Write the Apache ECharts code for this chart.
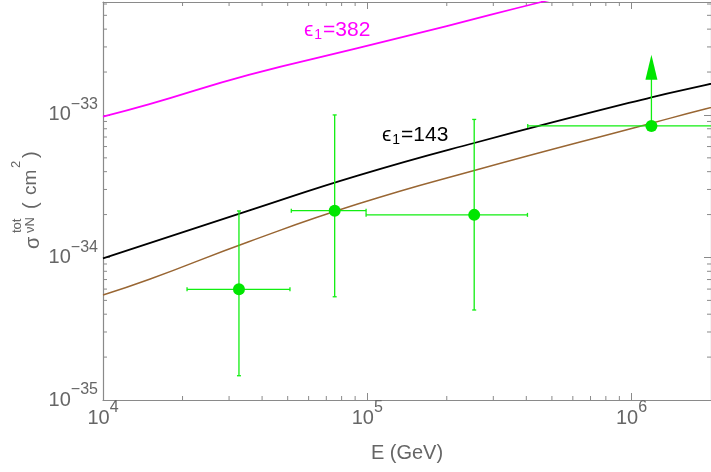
<!DOCTYPE html>
<html>
<head>
<meta charset="utf-8">
<script src="https://cdn.jsdelivr.net/npm/echarts@6/dist/echarts.min.js"></script>
<style>
html, body { margin: 0; padding: 0; background: #fff; }
#main { width: 711px; height: 472px; }
</style>
</head>
<body>
<div id="main"></div>
<script>
// axis ranges
var xMin = 1e4, xMax = 2e6;
var yMin = 1e-35, yMax = 6.2e-33;

// model curves (E in GeV, sigma in cm^2)
var curveE = [1e4, 1.5e4, 3.56e4, 9.2e4, 2.52e5, 1.19e6, 1.9e6, 2.2e6];
var sigma143 = [9.86e-35, 1.26e-34, 2.13e-34, 3.75e-34, 6.33e-34, 1.33e-33, 1.62e-33, 1.72e-33];
var sigmaBrown = [5.46e-35, 7.03e-35, 1.29e-34, 2.37e-34, 4.06e-34, 8.75e-34, 1.1e-33, 1.17e-33];
var curveE382 = [1e4, 1.5e4, 3.56e4, 9.2e4, 2.0e5, 4.56e5, 2e6];
var sigma382 = [9.73e-34, 1.19e-33, 1.91e-33, 2.94e-33, 4.2e-33, 6.2e-33, 1.2e-32];

// measured points with error bars
var ptE = [3.27e4, 7.53e4, 2.54e5];
var ptSigma = [5.98e-35, 2.13e-34, 1.99e-34];
var ptELow = [2.08e4, 5.16e4, 9.9e4];
var ptEHigh = [5.1e4, 9.9e4, 4.04e5];
var ptSigmaLow = [1.48e-35, 5.3e-35, 4.28e-35];
var ptSigmaHigh = [2.12e-34, 1.0e-33, 9.3e-34];

// lower limit point (arrow up)
var limE = [1.19e6];
var limSigma = [8.37e-34];
var limELow = [4.05e5];
var limEHigh = [3e6];
var limArrowTip = [2.64e-33];

var minorMult = [2, 3, 4, 5, 6, 7, 8, 9];
var xDecades = [4, 5, 6];
var yDecades = [-35, -34, -33];

// the log axis can't cope with 1e-35 directly, so sigma is plotted in units of 1e-35 cm^2
var yUnitExp = -35;
function ys(v) { return v / Math.pow(10, yUnitExp); }

var gray = '#666666';
var frame = '#8a8a8a';
var green = '#11ee11';
var font = 'Liberation Sans, Arial, sans-serif';

function zip(a, b) {
	var out = [];
	for (var i = 0; i < a.length; i++) out.push([a[i], ys(b[i])]);
	return out;
}

function isPow10(v) {
	var l = Math.log10(v);
	return Math.abs(l - Math.round(l)) < 1e-6;
}

function supText(n) {
	return String(n).replace('-', '\u2212');
}

function xLabel(v) {
	if (!isPow10(v)) return '';
	return '{b|10}{e|' + supText(Math.round(Math.log10(v))) + '}';
}

function yLabel(v) {
	if (!isPow10(v)) return '';
	return '{b|10}{e|' + supText(Math.round(Math.log10(v)) + yUnitExp) + '}';
}

var powRich = {
	b: { fontSize: 20, lineHeight: 36, verticalAlign: 'middle', color: gray, fontFamily: font },
	e: { fontSize: 16, lineHeight: 16, verticalAlign: 'top', color: gray, fontFamily: font }
};

function seg(p1, p2, style) {
	return { type: 'line', shape: { x1: p1[0], y1: p1[1], x2: p2[0], y2: p2[1] }, style: style };
}

// minor ticks on all four sides of the frame
function minorTicks(params, api) {
	var kids = [];
	var st = { stroke: frame, lineWidth: 1 };
	var len = 4;
	xDecades.forEach(function (d) {
		minorMult.forEach(function (m) {
			var v = m * Math.pow(10, d);
			if (v <= xMin || v >= xMax) return;
			var b = api.coord([v, ys(yMin)]), t = api.coord([v, ys(yMax)]);
			kids.push(seg(b, [b[0], b[1] - len], st));
			kids.push(seg(t, [t[0], t[1] + len], st));
		});
	});
	yDecades.forEach(function (d) {
		minorMult.forEach(function (m) {
			var v = m * Math.pow(10, d);
			if (v <= yMin || v >= yMax) return;
			var l = api.coord([xMin, ys(v)]), r = api.coord([xMax, ys(v)]);
			kids.push(seg(l, [l[0] + len, l[1]], st));
			kids.push(seg(r, [r[0] - len, r[1]], st));
		});
	});
	return { type: 'group', children: kids };
}

function errorBar(params, api) {
	var e = api.value(0), s = api.value(1);
	var c = api.coord([e, s]);
	var l = api.coord([api.value(2), s]), r = api.coord([api.value(3), s]);
	var b = api.coord([e, api.value(4)]), t = api.coord([e, api.value(5)]);
	var st = { stroke: green, lineWidth: 1.3 };
	var cap = 2;
	return {
		type: 'group',
		children: [
			seg(l, r, st),
			seg(b, t, st),
			seg([l[0], l[1] - cap], [l[0], l[1] + cap], st),
			seg([r[0], r[1] - cap], [r[0], r[1] + cap], st),
			seg([b[0] - cap, b[1]], [b[0] + cap, b[1]], st),
			seg([t[0] - cap, t[1]], [t[0] + cap, t[1]], st),
			{ type: 'circle', shape: { cx: c[0], cy: c[1], r: 6 }, style: { fill: '#00e600' } }
		]
	};
}

function limitBar(params, api) {
	var e = api.value(0), s = api.value(1);
	var c = api.coord([e, s]);
	var l = api.coord([api.value(2), s]), r = api.coord([api.value(3), s]);
	var tip = api.coord([e, api.value(4)]);
	var st = { stroke: green, lineWidth: 1.3 };
	var cap = 2, headLen = 25, headHalf = 6;
	return {
		type: 'group',
		children: [
			seg(l, r, st),
			seg([l[0], l[1] - cap], [l[0], l[1] + cap], st),
			seg(c, [tip[0], tip[1] + headLen - 2], st),
			{
				type: 'polygon',
				shape: { points: [[tip[0], tip[1]], [tip[0] - headHalf, tip[1] + headLen], [tip[0] + headHalf, tip[1] + headLen]] },
				style: { fill: '#00e600' }
			},
			{ type: 'circle', shape: { cx: c[0], cy: c[1], r: 6 }, style: { fill: '#00e600' } }
		]
	};
}

function logAxis(min, max, extra) {
	var ax = {
		type: 'log',
		logBase: 10,
		min: min,
		max: max,
		splitLine: { show: false },
		axisLine: { show: true, lineStyle: { color: frame, width: 1.2 } },
		axisTick: { show: true, inside: true, length: 7, lineStyle: { color: frame } },
		axisLabel: { show: false }
	};
	for (var k in extra) ax[k] = extra[k];
	return ax;
}

function epsLabel(num, color) {
	return {
		text: '{e|\u03f5}{s|1}{e|=' + num + '}',
		rich: {
			e: { fontSize: 21, lineHeight: 22, verticalAlign: 'top', fill: color, fontFamily: font },
			s: { fontSize: 14, lineHeight: 14, padding: [8, 1, 0, 1], verticalAlign: 'top', fill: color, fontFamily: font }
		}
	};
}

var chart = echarts.init(document.getElementById('main'));
chart.setOption({
	animation: false,
	backgroundColor: '#fff',
	grid: { left: 103, right: -5, top: 2, bottom: 72 },
	xAxis: [
		logAxis(xMin, xMax, {
			position: 'bottom',
			name: 'E (GeV)',
			nameLocation: 'middle',
			nameGap: 42,
			nameTextStyle: { fontSize: 20, lineHeight: 22, color: gray, fontFamily: font },
			axisLabel: { show: true, margin: 0, formatter: xLabel, rich: powRich, showMinLabel: true, showMaxLabel: false }
		}),
		logAxis(xMin, xMax, { position: 'top' })
	],
	yAxis: [
		logAxis(ys(yMin), ys(yMax), {
			position: 'left',
			axisLabel: { show: true, margin: 5, formatter: yLabel, rich: powRich, showMinLabel: true, showMaxLabel: false }
		}),
		logAxis(ys(yMin), ys(yMax), { position: 'right' })
	],
	series: [
		{
			type: 'custom',
			renderItem: minorTicks,
			data: [[xMin, ys(yMin)]],
			clip: false,
			silent: true,
			z: 1
		},
		{
			type: 'line',
			data: zip(curveE382, sigma382),
			smooth: 0.5,
			symbol: 'none',
			lineStyle: { color: '#ff00ff', width: 1.8 },
			z: 2
		},
		{
			type: 'line',
			data: zip(curveE, sigma143),
			smooth: 0.5,
			symbol: 'none',
			lineStyle: { color: '#000000', width: 1.8 },
			z: 2
		},
		{
			type: 'line',
			data: zip(curveE, sigmaBrown),
			smooth: 0.5,
			symbol: 'none',
			lineStyle: { color: '#996633', width: 1.5 },
			z: 2
		},
		{
			type: 'custom',
			renderItem: errorBar,
			data: ptE.map(function (e, i) {
				return [e, ys(ptSigma[i]), ptELow[i], ptEHigh[i], ys(ptSigmaLow[i]), ys(ptSigmaHigh[i])];
			}),
			clip: true,
			z: 3
		},
		{
			type: 'custom',
			renderItem: limitBar,
			data: limE.map(function (e, i) {
				return [e, ys(limSigma[i]), limELow[i], limEHigh[i], ys(limArrowTip[i])];
			}),
			clip: true,
			z: 3
		}
	],
	graphic: [
		{ type: 'text', left: 304, top: 20, style: epsLabel('382', '#ff00ff') },
		{ type: 'text', left: 382, top: 125, style: epsLabel('143', '#000000') },
		{
			type: 'group',
			x: 0,
			y: 250,
			rotation: Math.PI / 2,
			children: [
				{ type: 'text', x: 1, y: 33, style: { text: '\u03c3', fontSize: 20, fontFamily: font, fill: gray, verticalAlign: 'middle' } },
				{ type: 'text', x: 17, y: 17, style: { text: 'tot', fontSize: 13, fontFamily: font, fill: gray, verticalAlign: 'middle' } },
				{ type: 'text', x: 17, y: 30, style: { text: '\u03bdN', fontSize: 13, fontFamily: font, fill: gray, verticalAlign: 'middle' } },
				{ type: 'text', x: 41, y: 31, style: { text: '(', fontSize: 20, fontFamily: font, fill: gray, verticalAlign: 'middle' } },
				{ type: 'text', x: 55, y: 31, style: { text: 'cm', fontSize: 19, fontFamily: font, fill: gray, verticalAlign: 'middle' } },
				{ type: 'text', x: 82, y: 16, style: { text: '2', fontSize: 13, fontFamily: font, fill: gray, verticalAlign: 'middle' } },
				{ type: 'text', x: 92, y: 31, style: { text: ')', fontSize: 20, fontFamily: font, fill: gray, verticalAlign: 'middle' } }
			]
		}
	]
});
</script>
</body>
</html>
